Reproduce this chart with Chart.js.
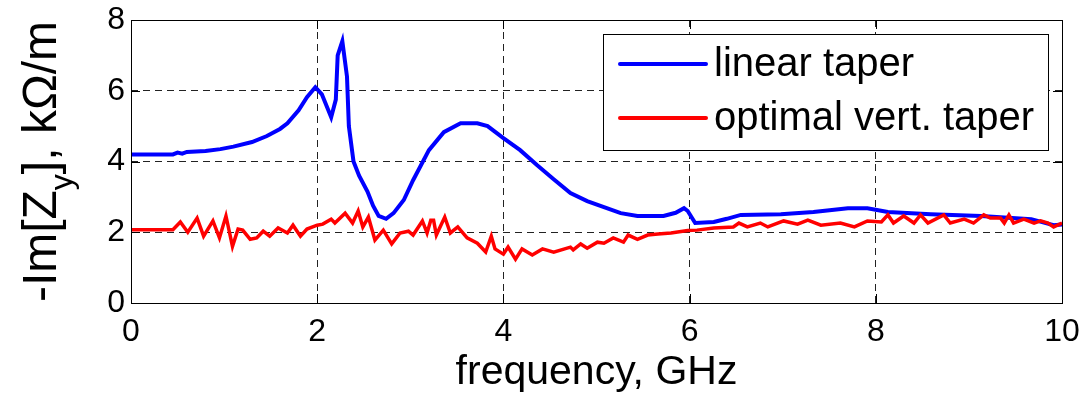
<!DOCTYPE html>
<html>
<head>
<meta charset="utf-8">
<script src="https://cdn.jsdelivr.net/npm/chart.js@4.4.0/dist/chart.umd.min.js"></script>
<style>
  html, body { margin: 0; padding: 0; background: #fff; }
  canvas { display: block; }
</style>
</head>
<body>
<canvas id="chart" width="1081" height="397"></canvas>
<script>
// values (GHz, kOhm/m)
const seriesLabels = ['linear taper', 'optimal vert. taper'];

const linearFreq = [0, 0.45, 0.5, 0.55, 0.6, 0.8, 0.96, 1.1, 1.3, 1.46, 1.6, 1.68, 1.8, 1.89, 1.98, 2.05,
  2.15, 2.2, 2.22, 2.27, 2.32, 2.34, 2.39, 2.45, 2.54, 2.6, 2.66, 2.74, 2.82, 2.93, 3.03, 3.2, 3.36,
  3.54, 3.72, 3.83, 4.0, 4.18, 4.36, 4.54, 4.72, 4.9, 5.08, 5.26, 5.44, 5.72, 5.85, 5.94, 5.98, 6.06,
  6.26, 6.4, 6.55, 6.98, 7.33, 7.7, 7.91, 8.13, 8.59, 9.13, 9.67, 9.91, 10];
const linearImZ = [4.2, 4.2, 4.25, 4.22, 4.27, 4.3, 4.35, 4.42, 4.55, 4.72, 4.92, 5.08, 5.45, 5.82, 6.1, 5.9,
  5.25, 5.75, 7.0, 7.4, 6.4, 5.0, 4.0, 3.6, 3.15, 2.75, 2.46, 2.38, 2.54, 2.91, 3.47, 4.32, 4.83,
  5.08, 5.08, 5.0, 4.66, 4.32, 3.9, 3.5, 3.11, 2.88, 2.71, 2.54, 2.46, 2.46, 2.55, 2.68, 2.6, 2.26,
  2.29, 2.38, 2.49, 2.51, 2.57, 2.68, 2.68, 2.57, 2.51, 2.46, 2.37, 2.2, 2.22];

const optimalFreq = [0, 0.45, 0.53, 0.61, 0.71, 0.78, 0.88, 0.95, 1.02, 1.09, 1.15, 1.2, 1.28, 1.35, 1.42,
  1.49, 1.58, 1.68, 1.74, 1.82, 1.89, 2.0, 2.06, 2.15, 2.19, 2.3, 2.38, 2.44, 2.49, 2.55, 2.62, 2.71,
  2.8, 2.89, 2.98, 3.03, 3.13, 3.18, 3.22, 3.25, 3.28, 3.37, 3.43, 3.51, 3.61, 3.72, 3.81, 3.87, 3.91,
  4.0, 4.05, 4.13, 4.2, 4.31, 4.42, 4.54, 4.72, 4.75, 4.83, 4.9, 5.01, 5.08, 5.18, 5.29, 5.34, 5.44,
  5.55, 5.66, 5.8, 5.98, 6.08, 6.26, 6.47, 6.53, 6.62, 6.76, 6.84, 7.01, 7.16, 7.27, 7.41, 7.62, 7.77,
  7.91, 8.06, 8.13, 8.19, 8.3, 8.41, 8.48, 8.56, 8.73, 8.8, 8.95, 9.05, 9.16, 9.23, 9.34, 9.38, 9.43,
  9.48, 9.59, 9.7, 9.77, 9.85, 9.91, 10];
const optimalImZ = [2.07, 2.07, 2.29, 2.0, 2.4, 1.89, 2.32, 1.84, 2.46, 1.6, 2.09, 2.06, 1.8, 1.84, 2.03,
  1.89, 2.12, 1.98, 2.2, 1.89, 2.09, 2.2, 2.23, 2.37, 2.26, 2.54, 2.26, 2.6, 2.15, 2.43, 1.78, 2.06,
  1.67, 1.98, 2.03, 1.92, 2.32, 1.98, 2.34, 2.34, 1.92, 2.43, 1.98, 2.15, 1.84, 1.69, 1.44, 1.89, 1.53,
  1.38, 1.58, 1.24, 1.53, 1.36, 1.53, 1.44, 1.58, 1.5, 1.67, 1.55, 1.72, 1.69, 1.84, 1.72, 1.92, 1.8,
  1.92, 1.95, 1.98, 2.05, 2.06, 2.12, 2.15, 2.26, 2.15, 2.26, 2.15, 2.32, 2.23, 2.34, 2.2, 2.26, 2.15,
  2.32, 2.29, 2.49, 2.26, 2.46, 2.26, 2.49, 2.26, 2.49, 2.26, 2.37, 2.26, 2.49, 2.4, 2.4, 2.26, 2.49,
  2.26, 2.37, 2.26, 2.32, 2.26, 2.15, 2.26];

const xTicks = [0, 2, 4, 6, 8, 10];
const yTicks = [0, 2, 4, 6, 8];

const FONT = '"Liberation Sans", Arial, Helvetica, sans-serif';

function toPoints(xs, ys) {
  return xs.map((x, i) => ({ x: x, y: ys[i] }));
}

// box around the axes with small inward ticks, like matlab
const framePlugin = {
  id: 'frame',
  afterDraw(chart) {
    const { ctx, chartArea: a, scales } = chart;
    ctx.save();
    ctx.strokeStyle = '#000';
    ctx.lineWidth = 1;
    ctx.beginPath();
    xTicks.forEach(v => {
      const px = Math.round(scales.x.getPixelForValue(v)) + 0.5;
      ctx.moveTo(px, a.bottom); ctx.lineTo(px, a.bottom - 9);
      ctx.moveTo(px, a.top); ctx.lineTo(px, a.top + 9);
    });
    yTicks.forEach(v => {
      const py = Math.round(scales.y.getPixelForValue(v)) + 0.5;
      ctx.moveTo(a.left, py); ctx.lineTo(a.left + 9, py);
      ctx.moveTo(a.right, py); ctx.lineTo(a.right - 9, py);
    });
    ctx.stroke();
    ctx.strokeRect(Math.round(a.left) + 0.5, Math.round(a.top) + 0.5,
      Math.round(a.right - a.left), Math.round(a.bottom - a.top));
    ctx.restore();
  }
};

// legend box inside the top right corner of the axes
const legendPlugin = {
  id: 'boxLegend',
  afterDraw(chart) {
    const { ctx } = chart;
    const box = { left: 603.5, top: 34.5, width: 445, height: 116 };
    ctx.save();
    ctx.fillStyle = '#fff';
    ctx.fillRect(box.left, box.top, box.width, box.height);
    ctx.strokeStyle = '#000';
    ctx.lineWidth = 1;
    ctx.strokeRect(box.left, box.top, box.width, box.height);
    ctx.font = '40px ' + FONT;
    ctx.textBaseline = 'middle';
    ctx.textAlign = 'left';
    const rows = [64, 118];
    chart.data.datasets.forEach((ds, i) => {
      ctx.strokeStyle = ds.borderColor;
      ctx.lineWidth = 4;
      ctx.lineCap = 'round';
      ctx.beginPath();
      ctx.moveTo(620, rows[i]);
      ctx.lineTo(706, rows[i]);
      ctx.stroke();
      ctx.fillStyle = '#000';
      ctx.fillText(ds.label, 714, rows[i] + 1);
    });
    ctx.restore();
  }
};

// y axis title with a subscript y
const yTitlePlugin = {
  id: 'yTitle',
  afterDraw(chart) {
    const { ctx, chartArea: a } = chart;
    const parts = [
      { text: '-Im[Z', size: 48, shift: 0 },
      { text: 'y', size: 32, shift: 16 },
      { text: '], k\u03A9/m', size: 48, shift: 0 }
    ];
    ctx.save();
    ctx.fillStyle = '#000';
    ctx.textBaseline = 'alphabetic';
    ctx.textAlign = 'left';
    let total = 0;
    parts.forEach(p => {
      ctx.font = p.size + 'px ' + FONT;
      p.w = ctx.measureText(p.text).width;
      total += p.w;
    });
    ctx.translate(56, (a.top + a.bottom) / 2);
    ctx.rotate(-Math.PI / 2);
    let x = -total / 2;
    parts.forEach(p => {
      ctx.font = p.size + 'px ' + FONT;
      ctx.fillText(p.text, x, p.shift);
      x += p.w;
    });
    ctx.restore();
  }
};

new Chart(document.getElementById('chart'), {
  type: 'line',
  data: {
    datasets: [
      {
        label: seriesLabels[0],
        data: toPoints(linearFreq, linearImZ),
        borderColor: '#0000ff',
        borderWidth: 4,
        pointRadius: 0,
        tension: 0,
        order: 1
      },
      {
        label: seriesLabels[1],
        data: toPoints(optimalFreq, optimalImZ),
        borderColor: '#ff0000',
        borderWidth: 3.5,
        pointRadius: 0,
        tension: 0,
        order: 0
      }
    ]
  },
  options: {
    responsive: false,
    animation: false,
    events: [],
    layout: { padding: { top: 20, right: 19, left: 0, bottom: 0 } },
    plugins: {
      legend: { display: false },
      tooltip: { enabled: false }
    },
    scales: {
      x: {
        type: 'linear',
        min: 0,
        max: 10,
        afterFit(scale) {
          scale.height = 94;
          scale.paddingLeft = 0;
          scale.paddingRight = 0;
        },
        afterBuildTicks(scale) { scale.ticks = xTicks.map(v => ({ value: v })); },
        ticks: {
          color: '#000',
          font: { family: FONT, size: 32 },
          padding: 10,
          maxRotation: 0
        },
        grid: { color: '#222', lineWidth: 1, drawTicks: false },
        border: { display: false, dash: [7, 5] },
        title: {
          display: true,
          text: 'frequency, GHz',
          color: '#000',
          font: { family: FONT, size: 41 },
          padding: { top: 0, bottom: 0 }
        }
      },
      y: {
        min: 0,
        max: 8,
        afterFit(scale) {
          scale.width = 131;
          scale.paddingTop = 0;
          scale.paddingBottom = 0;
        },
        afterBuildTicks(scale) { scale.ticks = yTicks.map(v => ({ value: v })); },
        ticks: {
          color: '#000',
          font: { family: FONT, size: 32 },
          padding: 6
        },
        grid: { color: '#222', lineWidth: 1, drawTicks: false },
        border: { display: false, dash: [7, 5] }
      }
    }
  },
  plugins: [framePlugin, legendPlugin, yTitlePlugin]
});
</script>
</body>
</html>
